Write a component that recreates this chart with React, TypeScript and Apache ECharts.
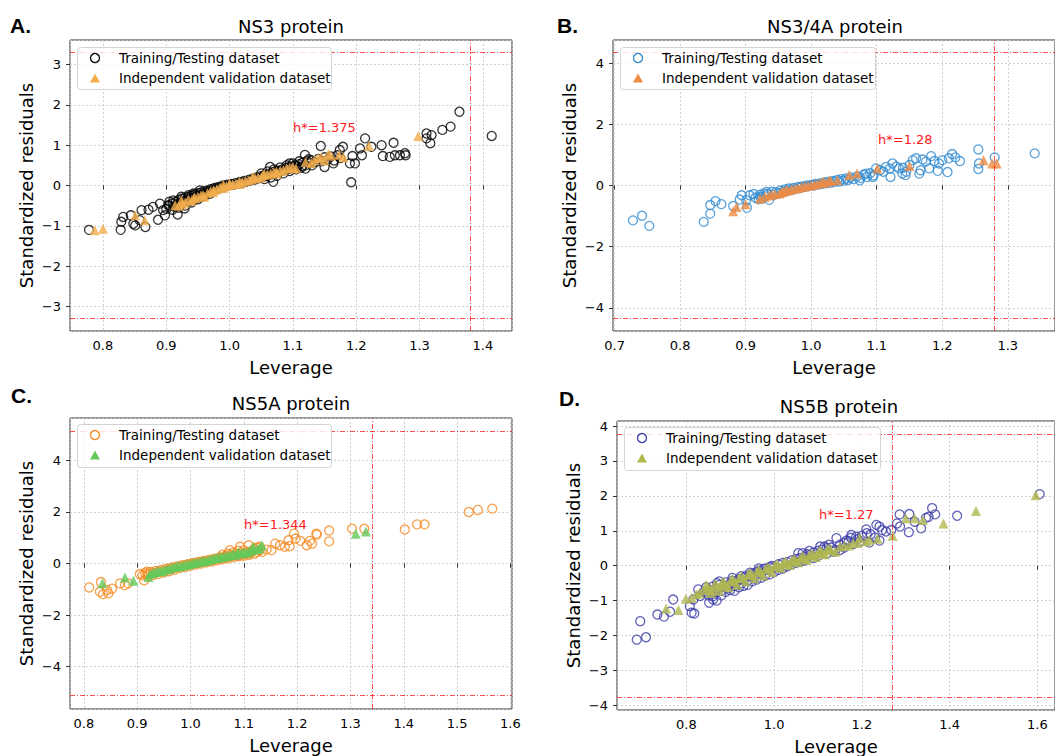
import React, { useEffect, useRef } from "react";
import * as echarts from "echarts";

type P = [number, number];

// ---------- Panel A: NS3 protein ----------
const trainA: P[] = [
  [0.778, -1.1], [0.828, -1.1], [0.829, -0.9], [0.832, -0.78], [0.844, -0.74], [0.848, -0.95], [0.851, -0.99],
  [0.858, -0.86], [0.867, -1.03], [0.861, -0.61], [0.872, -0.6], [0.879, -0.53], [0.887, -0.85], [0.89, -0.45],
  [0.895, -0.61], [0.898, -0.74], [0.903, -0.49], [0.911, -0.37], [0.918, -0.72], [0.924, -0.28], [0.929, -0.57],
  [0.935, -0.24], [0.943, -0.2], [0.953, -0.12],
  [0.905, -0.5], [0.91, -0.44], [0.912, -0.52], [0.915, -0.4], [0.918, -0.47], [0.92, -0.36], [0.922, -0.42],
  [0.925, -0.33], [0.928, -0.4], [0.93, -0.3], [0.932, -0.36], [0.935, -0.28], [0.937, -0.33], [0.94, -0.25],
  [0.942, -0.31], [0.945, -0.22], [0.948, -0.27], [0.95, -0.19], [0.952, -0.24], [0.955, -0.17], [0.958, -0.21],
  [0.96, -0.14], [0.963, -0.18], [0.965, -0.12], [0.968, -0.15], [0.97, -0.09], [0.973, -0.12], [0.975, -0.07],
  [0.978, -0.1], [0.98, -0.05], [0.983, -0.07], [0.985, -0.03], [0.988, -0.05], [0.99, 0.0], [0.993, -0.02],
  [0.996, 0.02], [1.0, 0.01], [1.003, 0.04], [1.006, 0.02], [1.01, 0.06], [1.013, 0.04], [1.016, 0.09],
  [1.02, 0.07], [1.023, 0.11], [1.026, 0.09], [1.03, 0.14], [1.033, 0.12], [1.036, 0.17], [1.04, 0.15],
  [1.043, 0.2], [1.046, 0.18], [1.05, 0.23], [1.053, 0.21], [1.056, 0.27], [1.06, 0.25], [1.063, 0.3],
  [1.066, 0.28], [1.07, 0.34], [1.073, 0.31], [1.076, 0.37], [1.08, 0.35], [1.083, 0.4], [1.086, 0.38],
  [1.09, 0.44], [1.093, 0.41], [1.096, 0.47], [1.1, 0.45], [1.103, 0.5], [1.106, 0.48], [1.11, 0.53],
  [1.113, 0.44], [1.116, 0.58], [1.12, 0.5], [1.123, 0.6], [1.126, 0.55], [1.13, 0.62], [1.135, 0.57],
  [1.14, 0.66], [1.145, 0.6], [1.15, 0.7], [1.155, 0.64], [1.16, 0.72], [1.165, 0.62], [1.17, 0.75], [1.175, 0.68],
  [0.9, -0.58], [0.905, -0.4], [0.91, -0.6], [0.915, -0.52], [0.92, -0.55], [0.925, -0.45], [0.93, -0.5],
  [0.935, -0.4], [0.94, -0.42], [0.945, -0.35], [0.95, -0.34], [0.955, -0.28], [0.96, -0.26], [0.965, -0.22],
  [0.97, -0.2], [1.05, 0.3], [1.055, 0.16], [1.06, 0.35], [1.065, 0.2], [1.07, 0.4], [1.075, 0.24],
  [1.08, 0.45], [1.085, 0.3], [1.09, 0.5], [1.095, 0.36], [1.1, 0.55], [1.105, 0.4], [1.11, 0.6],
  [1.115, 0.48], [1.12, 0.42], [1.125, 0.65], [1.13, 0.5],
  [1.069, 0.09], [1.064, 0.46], [1.095, 0.55], [1.119, 0.76], [1.144, 0.98], [1.15, 0.46], [1.164, 0.55],
  [1.174, 0.88], [1.179, 0.96], [1.19, 0.55], [1.192, 0.08], [1.198, 0.55], [1.194, 0.73], [1.206, 0.92],
  [1.209, 0.75], [1.214, 1.17], [1.224, 0.96], [1.24, 1.0], [1.242, 0.73], [1.253, 0.71], [1.259, 1.06],
  [1.261, 0.75], [1.269, 0.75], [1.277, 0.8], [1.278, 0.75], [1.311, 1.29], [1.311, 1.17], [1.317, 1.05],
  [1.319, 1.25], [1.336, 1.38], [1.349, 1.46], [1.363, 1.83], [1.414, 1.23],
];
const validA: P[] = [
  [0.787, -1.11], [0.8, -1.07], [0.851, -0.74], [0.866, -0.86], [0.914, -0.49], [0.924, -0.37], [0.93, -0.42],
  [0.935, -0.35], [0.943, -0.32], [0.95, -0.28], [0.955, -0.25], [0.958, -0.24], [0.965, -0.19], [0.97, -0.14],
  [0.974, -0.16], [0.98, -0.09], [0.985, -0.05], [0.99, 0.01], [0.995, -0.02], [1.0, 0.01], [1.005, 0.03],
  [1.01, 0.05], [1.016, 0.09], [1.02, 0.08], [1.025, 0.12], [1.03, 0.13], [1.037, 0.22], [1.04, 0.18],
  [1.045, 0.2], [1.053, 0.26], [1.06, 0.27], [1.065, 0.3], [1.07, 0.33], [1.074, 0.34], [1.08, 0.36],
  [1.085, 0.38], [1.09, 0.42], [1.095, 0.44],
  [0.92, -0.5], [0.925, -0.46], [0.94, -0.38], [0.945, -0.3], [0.96, -0.28], [0.975, -0.12], [0.99, -0.06],
  [1.0, 0.05], [1.015, 0.04], [1.035, 0.16], [1.05, 0.2], [1.055, 0.28], [1.075, 0.3], [1.1, 0.46],
  [1.105, 0.42], [1.12, 0.58], [1.14, 0.68], [1.15, 0.62], [1.16, 0.74], [1.18, 0.7],
  [1.129, 0.55], [1.134, 0.63], [1.145, 0.71], [1.156, 0.78], [1.173, 0.76], [1.22, 0.98], [1.298, 1.23],
];

// ---------- Panel B: NS3/4A protein ----------
const trainB: P[] = [
  [0.728, -1.14], [0.742, -0.99], [0.753, -1.32], [0.836, -1.19], [0.846, -0.92], [0.846, -0.64], [0.854, -0.51],
  [0.863, -0.61], [0.881, -0.67], [0.891, -0.46], [0.894, -0.32], [0.902, -0.73], [0.901, -0.48], [0.906, -0.32],
  [0.912, -0.28], [0.922, -0.37], [0.932, -0.21],
  [0.915, -0.4], [0.92, -0.45], [0.922, -0.3], [0.925, -0.42], [0.928, -0.26], [0.93, -0.36], [0.933, -0.28],
  [0.936, -0.47], [0.94, -0.2], [0.943, -0.3], [0.946, -0.22], [0.95, -0.26], [0.953, -0.16], [0.956, -0.22],
  [0.96, -0.13], [0.963, -0.18], [0.966, -0.1], [0.97, -0.14], [0.973, -0.08], [0.976, -0.11], [0.98, -0.05],
  [0.983, -0.08], [0.986, -0.03], [0.99, -0.05], [0.993, 0.0], [0.996, -0.02], [1.0, 0.02], [1.003, 0.0],
  [1.006, 0.05], [1.01, 0.03], [1.013, 0.07], [1.016, 0.05], [1.02, 0.1], [1.023, 0.07], [1.026, 0.12],
  [1.03, 0.09], [1.033, 0.15], [1.036, 0.12], [1.04, 0.18], [1.043, 0.13], [1.046, 0.21], [1.05, 0.16],
  [1.053, 0.23], [1.056, 0.18], [1.06, 0.26], [1.065, 0.21], [1.07, 0.3], [1.075, 0.25], [1.08, 0.35],
  [1.085, 0.28], [1.09, 0.4], [1.095, 0.33], [1.105, 0.5], [1.11, 0.45], [1.12, 0.55], [1.13, 0.62],
  [1.14, 0.58], [1.145, 0.45],
  [1.074, 0.17], [1.084, 0.39], [1.094, 0.28], [1.099, 0.56], [1.114, 0.61], [1.121, 0.28], [1.124, 0.72],
  [1.134, 0.56], [1.139, 0.39], [1.144, 0.34], [1.15, 0.67], [1.155, 0.83], [1.16, 0.89], [1.165, 0.39],
  [1.167, 0.5], [1.17, 0.85], [1.175, 0.78], [1.18, 0.56], [1.183, 0.96], [1.188, 0.8], [1.193, 0.48],
  [1.195, 0.72], [1.2, 0.83], [1.208, 0.44], [1.21, 0.89], [1.215, 1.03], [1.22, 0.92], [1.227, 0.8],
  [1.255, 1.18], [1.256, 0.72], [1.255, 0.54], [1.28, 0.92], [1.341, 1.05],
];
const validB: P[] = [
  [0.881, -0.84], [0.886, -0.7], [0.9, -0.61], [0.922, -0.43], [0.929, -0.37], [0.935, -0.33], [0.94, -0.3],
  [0.945, -0.28], [0.952, -0.26], [0.955, -0.22], [0.958, -0.2], [0.962, -0.15], [0.965, -0.16], [0.97, -0.13],
  [0.975, -0.1], [0.98, -0.08], [0.985, -0.05], [0.99, -0.03], [0.995, -0.01], [1.0, 0.01], [1.005, 0.03],
  [1.01, 0.06], [1.015, 0.08], [1.018, 0.12], [1.022, 0.1], [1.028, 0.17], [1.03, 0.14], [1.04, 0.17],
  [1.058, 0.34], [1.07, 0.39], [1.101, 0.56], [1.15, 0.64], [1.263, 0.83], [1.276, 0.72], [1.283, 0.72],
];

// ---------- Panel C: NS5A protein ----------
const trainC: P[] = [
  [0.81, -0.93], [0.83, -1.1], [0.832, -0.72], [0.836, -1.19], [0.843, -1.03], [0.846, -1.16], [0.853, -0.98],
  [0.868, -0.77], [0.877, -0.84], [0.883, -0.77], [0.905, -0.41], [0.913, -0.65], [0.918, -0.32],
  [0.91, -0.45], [0.915, -0.38], [0.92, -0.42], [0.925, -0.33], [0.93, -0.37], [0.935, -0.29], [0.94, -0.32],
  [0.945, -0.25], [0.95, -0.27], [0.955, -0.2], [0.96, -0.22], [0.965, -0.15], [0.97, -0.17], [0.975, -0.11],
  [0.98, -0.12], [0.985, -0.07], [0.99, -0.08], [0.995, -0.03], [1.0, -0.03], [1.005, 0.02], [1.01, 0.02],
  [1.015, 0.06], [1.02, 0.06], [1.025, 0.1], [1.03, 0.1], [1.035, 0.14], [1.04, 0.14], [1.045, 0.19],
  [1.05, 0.18], [1.055, 0.23], [1.06, 0.21], [1.065, 0.28], [1.07, 0.26], [1.075, 0.33], [1.08, 0.3],
  [1.085, 0.37], [1.09, 0.33], [1.095, 0.4], [1.1, 0.36], [1.105, 0.43], [1.11, 0.4], [1.115, 0.48],
  [1.12, 0.58], [1.125, 0.62], [1.13, 0.52],
  [0.92, -0.5], [0.93, -0.45], [0.94, -0.4], [0.95, -0.35], [0.96, -0.3], [0.97, -0.24], [0.98, -0.18],
  [0.99, -0.14], [1.0, -0.09], [1.01, -0.04], [1.02, 0.0], [1.03, 0.05], [1.04, 0.08], [1.05, 0.12],
  [1.06, 0.16], [1.07, 0.2], [1.08, 0.24], [1.09, 0.28], [1.1, 0.3], [1.06, 0.34], [1.07, 0.38],
  [1.08, 0.42], [1.09, 0.5], [1.1, 0.52], [1.11, 0.34], [1.12, 0.38], [1.125, 0.45],
  [1.074, 0.52], [1.093, 0.65], [1.109, 0.71], [1.113, 0.45], [1.13, 0.65], [1.134, 0.45], [1.143, 0.54],
  [1.152, 0.52], [1.159, 0.77], [1.168, 0.71], [1.177, 0.65], [1.184, 0.9], [1.186, 0.67], [1.194, 1.16],
  [1.197, 0.97], [1.206, 0.88], [1.218, 0.71], [1.224, 0.88], [1.228, 0.77], [1.236, 1.16], [1.237, 1.12],
  [1.26, 1.28], [1.26, 0.86], [1.303, 1.35], [1.326, 1.35], [1.402, 1.32], [1.425, 1.52], [1.439, 1.52],
  [1.522, 2.0], [1.539, 2.08], [1.566, 2.13],
];
const validC: P[] = [
  [0.835, -0.77], [0.877, -0.54], [0.893, -0.67], [0.921, -0.52], [0.925, -0.4], [0.93, -0.36], [0.935, -0.33],
  [0.95, -0.26], [0.955, -0.22], [0.965, -0.16], [0.97, -0.14], [0.985, -0.08], [0.99, -0.05], [1.0, -0.01],
  [1.01, 0.04], [1.02, 0.08], [1.035, 0.14], [1.045, 0.2], [1.05, 0.22], [1.065, 0.27], [1.07, 0.3],
  [1.085, 0.34], [1.09, 0.45], [1.095, 0.4], [1.105, 0.42],
  [0.94, -0.28], [0.945, -0.3], [0.96, -0.2], [0.975, -0.1], [0.98, -0.12], [0.995, -0.04], [1.005, 0.02],
  [1.015, 0.06], [1.025, 0.1], [1.03, 0.12], [1.04, 0.17], [1.055, 0.24], [1.06, 0.26], [1.075, 0.32],
  [1.08, 0.38], [1.1, 0.45], [1.11, 0.48], [1.115, 0.52], [1.125, 0.55], [1.13, 0.6],
  [1.118, 0.65], [1.134, 0.71], [1.31, 1.16], [1.329, 1.24],
];

// ---------- Panel D: NS5B protein ----------
const trainD: P[] = [
  [0.687, -2.12], [0.708, -2.05], [0.695, -1.59], [0.734, -1.4], [0.749, -1.46], [0.763, -1.32], [0.77, -0.97],
  [0.808, -1.16], [0.812, -1.35], [0.818, -1.37], [0.816, -0.97], [0.827, -0.68], [0.831, -0.87], [0.846, -0.78],
  [0.852, -1.06], [0.861, -0.97], [0.869, -1.0], [0.875, -0.45],
  [0.84, -0.75], [0.845, -0.62], [0.85, -0.85], [0.855, -0.7], [0.86, -0.6], [0.865, -0.8], [0.87, -0.66],
  [0.875, -0.55], [0.88, -0.72], [0.885, -0.58], [0.89, -0.48], [0.895, -0.65], [0.9, -0.52], [0.905, -0.43],
  [0.91, -0.58], [0.915, -0.46], [0.92, -0.38], [0.925, -0.5], [0.93, -0.36], [0.935, -0.3], [0.94, -0.42],
  [0.945, -0.28], [0.95, -0.22], [0.955, -0.32], [0.96, -0.19], [0.965, -0.15], [0.97, -0.22], [0.975, -0.1],
  [0.98, -0.08], [0.985, -0.12], [0.99, -0.04], [0.995, -0.01], [1.0, -0.05], [1.01, 0.04], [1.02, 0.08],
  [1.03, 0.1], [1.04, 0.15], [1.05, 0.19], [1.055, 0.36], [1.06, 0.22], [1.07, 0.26], [1.075, 0.33],
  [1.08, 0.3], [1.09, 0.38], [1.095, 0.32], [1.1, 0.43], [1.11, 0.46], [1.115, 0.55], [1.12, 0.5],
  [1.13, 0.52], [1.14, 0.45], [1.15, 0.6], [1.16, 0.65], [1.165, 0.72], [1.17, 0.7], [1.19, 0.76],
  [1.2, 0.85], [1.22, 0.9],
  [0.86, -0.88], [0.87, -0.5], [0.88, -0.85], [0.89, -0.75], [0.9, -0.7], [0.905, -0.35], [0.91, -0.72],
  [0.92, -0.62], [0.925, -0.3], [0.93, -0.58], [0.94, -0.55], [0.945, -0.2], [0.95, -0.45], [0.96, -0.4],
  [0.965, -0.08], [0.97, -0.35], [0.98, -0.28], [0.99, -0.25], [1.0, -0.18], [1.01, -0.12], [1.02, -0.08],
  [1.03, -0.02], [1.04, 0.03], [1.05, 0.08], [1.06, 0.12], [1.065, 0.36], [1.07, 0.15], [1.08, 0.42],
  [1.09, 0.22], [1.1, 0.28], [1.105, 0.55], [1.12, 0.35], [1.125, 0.6], [1.135, 0.4], [1.15, 0.45],
  [1.16, 0.52], [1.175, 0.8], [1.18, 0.62], [1.195, 0.7], [1.23, 0.8], [1.24, 0.72],
  [1.142, 0.79], [1.176, 0.88], [1.187, 0.83], [1.21, 1.04], [1.211, 0.93], [1.217, 0.66], [1.233, 1.17],
  [1.24, 1.12], [1.246, 1.02], [1.255, 0.98], [1.267, 1.02], [1.28, 1.21], [1.286, 1.47], [1.287, 1.12],
  [1.307, 0.96], [1.308, 1.48], [1.32, 1.26], [1.335, 1.07], [1.346, 1.37], [1.352, 1.4], [1.36, 1.65],
  [1.367, 1.47], [1.417, 1.43], [1.605, 2.05],
];
const validD: P[] = [
  [0.754, -1.23], [0.782, -1.27], [0.799, -0.95], [0.812, -0.92], [0.823, -0.82], [0.854, -0.68], [0.877, -0.59],
  [0.83, -0.78], [0.84, -0.7], [0.85, -0.62], [0.86, -0.71], [0.87, -0.58], [0.88, -0.52], [0.89, -0.56],
  [0.9, -0.44], [0.91, -0.45], [0.92, -0.35], [0.93, -0.36], [0.94, -0.26], [0.95, -0.27], [0.96, -0.18],
  [0.97, -0.19], [0.98, -0.1], [0.99, -0.09], [1.0, -0.02], [1.01, 0.0], [1.02, 0.06], [1.03, 0.07],
  [1.04, 0.14], [1.05, 0.15], [1.06, 0.22], [1.07, 0.22], [1.08, 0.3], [1.09, 0.31], [1.1, 0.37], [1.11, 0.38],
  [1.12, 0.45], [1.13, 0.44], [1.15, 0.55], [1.17, 0.58], [1.18, 0.66],
  [0.845, -0.55], [0.855, -0.78], [0.865, -0.52], [0.875, -0.72], [0.885, -0.45], [0.895, -0.62], [0.905, -0.38],
  [0.915, -0.55], [0.925, -0.3], [0.935, -0.45], [0.945, -0.2], [0.955, -0.36], [0.965, -0.12], [0.975, -0.28],
  [0.985, -0.04], [0.995, -0.18], [1.005, 0.05], [1.015, -0.06], [1.025, 0.12], [1.035, 0.02], [1.045, 0.2],
  [1.055, 0.1], [1.065, 0.28], [1.075, 0.17], [1.085, 0.35], [1.095, 0.25], [1.105, 0.44], [1.115, 0.33],
  [1.125, 0.5], [1.14, 0.4], [1.16, 0.58], [1.19, 0.65], [1.21, 0.7],
  [1.195, 0.79], [1.217, 0.74], [1.236, 0.77], [1.27, 0.86], [1.3, 1.36], [1.32, 1.36], [1.339, 1.31],
  [1.386, 1.21], [1.46, 1.57], [1.596, 2.02],
];

const FONT = '"DejaVu Sans", sans-serif';
const TRAIN_LABEL = "Training/Testing dataset";
const VALID_LABEL = "Independent validation dataset";

const panels = [
  {
    key: "A", letter: "A.", title: "NS3 protein", hLabel: "h*=1.375", h: 1.375, r: 3.3,
    train: trainA, valid: validA, cTrain: "#000000", cValid: "#F2AE4C",
    grid: { left: 70, top: 40, width: 442, height: 291 },
    x: [0.748, 1.446], xStep: 0.1, y: [-3.61, 3.61], yStep: 1,
    letterPos: [10, 25], titlePos: [291, 26], hPos: [293, 127], legendBox: [77, 47, 254, 42],
  },
  {
    key: "B", letter: "B.", title: "NS3/4A protein", hLabel: "h*=1.28", h: 1.28, r: 4.35,
    train: trainB, valid: validB, cTrain: "#2F8AD0", cValid: "#EE8B45",
    grid: { left: 613, top: 40, width: 444, height: 291 },
    x: [0.6976, 1.372], xStep: 0.1, y: [-4.76, 4.76], yStep: 2,
    letterPos: [557, 25], titlePos: [835, 26], hPos: [878, 139], legendBox: [620, 47, 255, 42],
  },
  {
    key: "C", letter: "C.", title: "NS5A protein", hLabel: "h*=1.344", h: 1.344, r: 5.13,
    train: trainC, valid: validC, cTrain: "#F5881F", cValid: "#62C95A",
    grid: { left: 70, top: 418, width: 442, height: 291 },
    x: [0.774, 1.603], xStep: 0.1, y: [-5.65, 5.65], yStep: 2,
    letterPos: [11, 395], titlePos: [291, 403], hPos: [244, 524], legendBox: [77, 424, 254, 43],
  },
  {
    key: "D", letter: "D.", title: "NS5B protein", hLabel: "h*=1.27", h: 1.27, r: 3.77,
    train: trainD, valid: validD, cTrain: "#3B3BA8", cValid: "#B0B850",
    grid: { left: 617, top: 421, width: 440, height: 291 },
    x: [0.642, 1.64], xStep: 0.2, y: [-4.135, 4.145], yStep: 1,
    letterPos: [559, 398], titlePos: [839, 406], hPos: [819, 514], legendBox: [624, 427, 256, 43],
  },
];

function fmt(v: number, dec: number) {
  const s = Math.abs(v).toFixed(dec);
  return (v < -1e-9 ? "\u2212" : "") + s;
}

function legendGraphic(p: (typeof panels)[number]) {
  const [lx, ly, lw, lh] = p.legendBox;
  const mx = lx + 18;
  const r1 = ly + 11;
  const r2 = ly + 31;
  const tx = lx + 42;
  const textStyle = { fontSize: 13.5, fontFamily: FONT, fill: "#000", align: "left", verticalAlign: "middle" };
  return [
    {
      type: "rect", z: 100, silent: true,
      shape: { x: lx + 0.5, y: ly + 0.5, width: lw, height: lh, r: 3 },
      style: { fill: "rgba(255,255,255,0.8)", stroke: "#d4d4d4", lineWidth: 1 },
    },
    {
      type: "circle", z: 101, silent: true,
      shape: { cx: mx, cy: r1, r: 4.5 },
      style: { fill: "none", stroke: p.cTrain, lineWidth: 1.3 },
    },
    {
      type: "polygon", z: 101, silent: true,
      shape: { points: [[mx - 5, r2 + 4.5], [mx + 5, r2 + 4.5], [mx, r2 - 4.5]] },
      style: { fill: p.cValid },
    },
    { type: "text", z: 101, silent: true, x: tx, y: r1, style: { ...textStyle, text: TRAIN_LABEL } },
    { type: "text", z: 101, silent: true, x: tx, y: r2, style: { ...textStyle, text: VALID_LABEL } },
  ];
}

function buildOption() {
  const grid: any[] = [];
  const xAxis: any[] = [];
  const yAxis: any[] = [];
  const series: any[] = [];
  const graphic: any[] = [];

  panels.forEach((p, i) => {
    grid.push({
      ...p.grid,
      show: true,
      borderColor: "#333",
      borderWidth: 1,
      backgroundColor: "transparent",
      containLabel: false,
    });
    const tickStyle = { show: true, length: 4, lineStyle: { color: "#333", width: 1 } };
    const split = { show: true, lineStyle: { color: "#c4c4c4", type: [2, 2], width: 0.8 } };
    xAxis.push({
      type: "value",
      gridIndex: i,
      min: p.x[0],
      max: p.x[1],
      minInterval: p.xStep,
      maxInterval: p.xStep,
      name: "Leverage",
      nameLocation: "middle",
      nameGap: 27,
      nameTextStyle: { fontSize: 18, fontFamily: FONT, color: "#000" },
      axisLine: { show: false },
      axisTick: tickStyle,
      axisLabel: {
        fontSize: 13, fontFamily: FONT, color: "#000", margin: 8,
        showMinLabel: false, showMaxLabel: false,
        formatter: (v: number) => fmt(v, 1),
      },
      splitLine: split,
    });
    yAxis.push({
      type: "value",
      gridIndex: i,
      min: p.y[0],
      max: p.y[1],
      minInterval: p.yStep,
      maxInterval: p.yStep,
      name: "Standardized residuals",
      nameLocation: "middle",
      nameGap: 35,
      nameTextStyle: { fontSize: 18, fontFamily: FONT, color: "#000" },
      axisLine: { show: false },
      axisTick: tickStyle,
      axisLabel: {
        fontSize: 13, fontFamily: FONT, color: "#000", margin: 9,
        showMinLabel: false, showMaxLabel: false,
        formatter: (v: number) => fmt(v, 0),
      },
      splitLine: split,
    });
    series.push({
      type: "scatter",
      name: `${p.key} ${TRAIN_LABEL}`,
      xAxisIndex: i,
      yAxisIndex: i,
      data: p.train,
      symbol: "circle",
      symbolSize: 9,
      itemStyle: { color: "rgba(255,255,255,0)", borderColor: p.cTrain, borderWidth: 1.3 },
      z: 2,
      markLine: {
        silent: true,
        symbol: ["none", "none"],
        label: { show: false },
        lineStyle: { color: "rgba(255,0,0,0.7)", type: [5, 2, 1, 2], width: 1 },
        data: [{ xAxis: p.h }, { yAxis: p.r }, { yAxis: -p.r }],
      },
    });
    series.push({
      type: "scatter",
      name: `${p.key} ${VALID_LABEL}`,
      xAxisIndex: i,
      yAxisIndex: i,
      data: p.valid,
      symbol: "triangle",
      symbolSize: 10,
      itemStyle: { color: p.cValid },
      z: 3,
    });
    graphic.push(...legendGraphic(p));
    graphic.push({
      type: "text", x: p.letterPos[0], y: p.letterPos[1],
      style: { text: p.letter, fill: "#000", fontSize: 21, fontWeight: "bold", fontFamily: '"Liberation Sans", Arial, sans-serif', align: "left", verticalAlign: "middle" },
    });
    graphic.push({
      type: "text", x: p.titlePos[0], y: p.titlePos[1],
      style: { text: p.title, fill: "#000", fontSize: 18, fontFamily: FONT, align: "center", verticalAlign: "middle" },
    });
    graphic.push({
      type: "text", x: p.hPos[0], y: p.hPos[1], z: 10,
      style: { text: p.hLabel, fill: "#FF1A1A", fontSize: 13, fontFamily: FONT, align: "left", verticalAlign: "middle" },
    });
  });

  return {
    animation: false,
    backgroundColor: "#ffffff",
    grid, xAxis, yAxis, series, graphic,
  };
}

export default function App() {
  const ref = useRef<HTMLDivElement>(null);
  useEffect(() => {
    document.body.style.margin = "0";
    const chart = echarts.init(ref.current!, null, { renderer: "svg" });
    chart.setOption(buildOption() as any);
    return () => chart.dispose();
  }, []);
  return <div ref={ref} style={{ width: 1055, height: 756 }} />;
}
